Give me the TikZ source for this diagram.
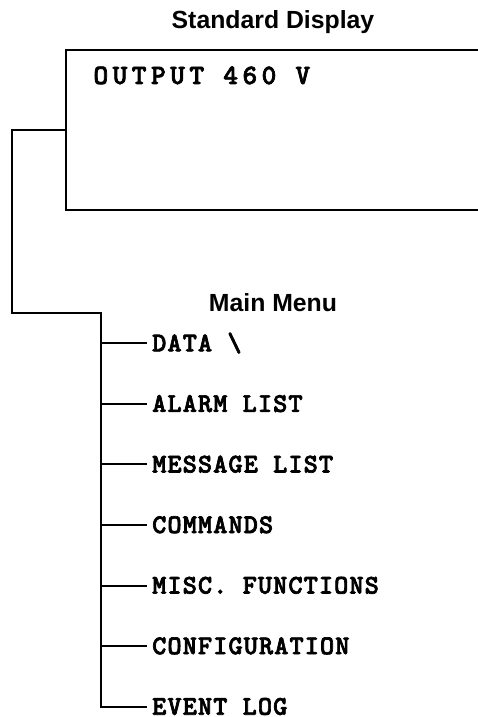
\documentclass[tikz,border=0pt]{standalone}
\usepackage{fontspec}
\newfontfamily\titlefont{Liberation Sans}
\newfontfamily\monomenu{lmmonolt10-bold.otf}[LetterSpace=4, FakeBold=2.5]
\newfontfamily\monodisp{lmmonolt10-bold.otf}[LetterSpace=16, FakeBold=2.5]
\tikzset{
  line/.style={line width=2.1pt, line cap=rect},
  title/.style={font=\titlefont\bfseries\fontsize{24.8}{26}\selectfont, inner sep=0, anchor=base},
  item/.style={font=\monomenu\fontsize{27}{29}\selectfont, inner sep=0, anchor=west, text height=16pt, text depth=0pt},
  disptext/.style={font=\monodisp\fontsize{28}{30}\selectfont, inner sep=0, anchor=base west},
  screen/.style={draw, line width=2.1pt, inner sep=0, anchor=north west, minimum width=480pt, minimum height=160pt}
}
\begin{document}
\begin{tikzpicture}[x=1pt, y=-1pt]
\useasboundingbox (0,0) rectangle (478,717);
\clip (0,0) rectangle (478,717);
\node[title] (std) at (273,28.3) {Standard Display};
\node[screen] (disp) at (65,49.3) {};
\node[disptext] (out) at (93.3,84) {OUTPUT 460 V};
\node[title] (mm) at (273,311.7) {Main Menu};
\coordinate (c1) at (11.7,313.3);
\foreach \t [count=\k] in {DATA \textbackslash, ALARM LIST, MESSAGE LIST, COMMANDS, MISC. FUNCTIONS, CONFIGURATION, EVENT LOG}{
  \node[item] (i\k) at (152,{343.3+60.57*(\k-1)}) {\t};
  \coordinate (b\k) at (101,{343.3+60.57*(\k-1)});
}
\draw[line] (disp.west) -| (c1) -| (b7) -- ([xshift=-6.5pt]i7.west);
\foreach \k in {1,...,6}{
  \draw[line] (b\k) -- ([xshift=-6.5pt]i\k.west);
}
\end{tikzpicture}
\end{document}
